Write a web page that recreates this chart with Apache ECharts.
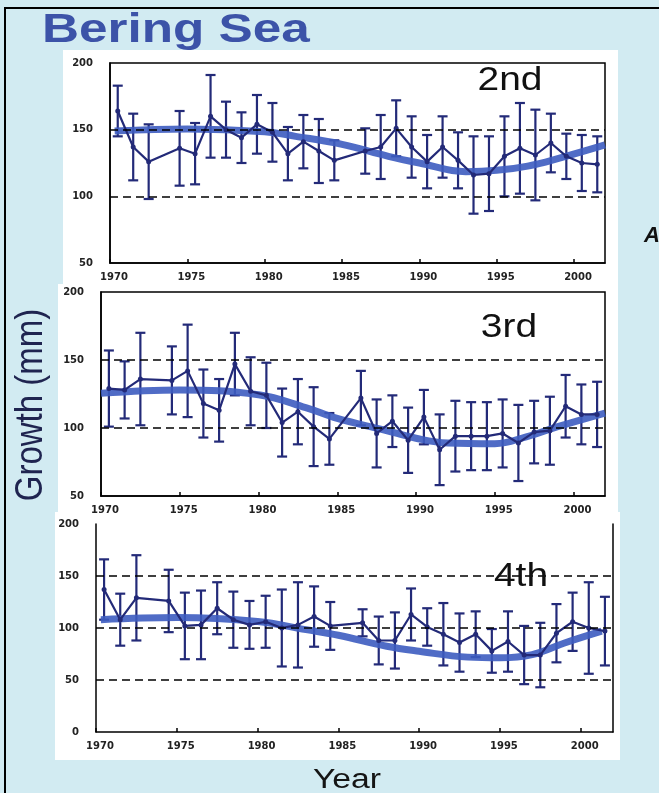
<!DOCTYPE html>
<html>
<head>
<meta charset="utf-8">
<script src="https://cdn.jsdelivr.net/npm/echarts@6/dist/echarts.min.js"></script>
<style>
  html, body { margin: 0; padding: 0; background: #d2ebf2; }
  #container { width: 659px; height: 793px; }
</style>
</head>
<body>
<div id="container"></div>
<script>
// sampling years (no samples in 1973 and 1985)
var years = [1970, 1971, 1972, 1974, 1975, 1976, 1977, 1978, 1979, 1980, 1981, 1982, 1983, 1984,
  1986, 1987, 1988, 1989, 1990, 1991, 1992, 1993, 1994, 1995, 1996, 1997, 1998, 1999, 2000, 2001];

// mean growth (mm) and error (+/-) per year
var mean2nd = [164, 137, 126, 136, 132, 160, 150, 144, 154, 148, 132, 141, 134, 127,
  134, 137, 151, 137, 126, 137, 127, 116, 117, 130, 136, 131, 140, 130, 125, 124];
var err2nd = [19, 25, 28, 28, 23, 31, 21, 19, 22, 22, 20, 20, 24, 15,
  17, 24, 21, 23, 20, 23, 21, 29, 28, 30, 34, 34, 22, 17, 21, 21];

var mean3rd = [129, 128, 136, 135, 142, 118, 113, 147, 127, 124, 104, 112, 101, 92,
  122, 96, 105, 91, 108, 84, 94, 94, 94, 96, 89, 97, 98, 116, 110, 110];
var err3rd = [28, 21, 34, 25, 34, 25, 23, 23, 25, 24, 25, 24, 29, 19,
  20, 25, 19, 24, 20, 26, 26, 25, 25, 25, 28, 23, 25, 23, 22, 24];

var mean4th = [137, 108, 129, 126, 102, 103, 119, 108, 103, 106, 100, 103, 111, 102,
  105, 88, 88, 113, 101, 94, 86, 94, 78, 87, 74, 74, 95, 106, 100, 97];
var err4th = [29, 25, 41, 30, 32, 33, 25, 27, 23, 25, 37, 41, 29, 23,
  13, 23, 27, 25, 18, 30, 28, 22, 21, 29, 28, 31, 28, 28, 44, 33];

// smoothed trend, [year, growth]
var trend2nd = [[1970.3, 149], [1975, 150.5], [1980, 148.5], [1982, 145], [1985, 139], [1988, 130],
  [1990, 125], [1993, 118.5], [1995, 119.5], [1997, 122.7], [1999, 128.5], [2002, 138.6]];
var trend3rd = [[1970, 125.5], [1975, 128], [1980, 124.5], [1983, 115], [1985, 107], [1988, 98.5],
  [1990, 92.5], [1992, 89], [1995, 88.5], [1997, 93.5], [1999, 101], [2002, 111]];
var trend4th = [[1970.3, 108], [1975, 110], [1980, 106.3], [1983, 98.4], [1985, 93], [1988, 82.4],
  [1990, 77.6], [1993, 72], [1995, 71.3], [1997, 74.4], [1999, 85.6], [2001.3, 97]];

// dashed reference lines
var ref2nd = [100, 150];
var ref3rd = [100, 150];
var ref4th = [50, 100, 150];

// axis ranges
var xRange = [1970, 2002];
var yRange2nd = [50, 200];
var yRange3rd = [50, 200];
var yRange4th = [0, 200];

var NAVY = "#232a78";
var TREND = "#3d5cc0";

var dom = document.getElementById("container");
var myChart = echarts.init(dom, null, { renderer: "canvas" });

var panels = [
  { name: "2nd", mean: mean2nd, err: err2nd, trend: trend2nd, ref: ref2nd, yr: yRange2nd,
    grid: { left: 110, top: 63, width: 495, height: 200, show: true } },
  { name: "3rd", mean: mean3rd, err: err3rd, trend: trend3rd, ref: ref3rd, yr: yRange3rd,
    grid: { left: 101, top: 292, width: 504, height: 204, show: true } },
  { name: "4th", mean: mean4th, err: err4th, trend: trend4th, ref: ref4th, yr: yRange4th,
    grid: { left: 96, top: 524, width: 517, height: 208, show: false } },
];

var axisLabelStyle = {
  fontFamily: "DejaVu Sans",
  fontWeight: "bold",
  fontSize: 10,
  color: "#222",
  formatter: function (v) { return String(v); },
};

var grids = [], xAxes = [], yAxes = [], series = [];

panels.forEach(function (p, i) {
  grids.push(Object.assign({
    borderColor: "#000",
    borderWidth: 1.5,
    backgroundColor: "transparent",
    outerBoundsMode: "none",
  }, p.grid));

  xAxes.push({
    type: "value",
    gridIndex: i,
    min: xRange[0],
    max: xRange[1],
    interval: 5,
    splitLine: { show: false },
    axisLine: { show: true, onZero: false, lineStyle: { color: "#000", width: 1.5 } },
    axisTick: { show: true, inside: true, length: 4, lineStyle: { color: "#000", width: 1.5 } },
    axisLabel: Object.assign({ margin: 9, showMaxLabel: false, padding: [0, 0, 0, 8] }, axisLabelStyle),
  });

  yAxes.push({
    type: "value",
    gridIndex: i,
    min: p.yr[0],
    max: p.yr[1],
    interval: 50,
    splitLine: { show: false },
    axisLine: { show: true, onZero: false, lineStyle: { color: "#000", width: 1.5 } },
    axisTick: { show: false },
    axisLabel: Object.assign({ margin: 17 }, axisLabelStyle),
  });

  // error bars
  series.push({
    type: "custom",
    xAxisIndex: i,
    yAxisIndex: i,
    z: 2,
    silent: true,
    encode: { x: 0, y: 1 },
    data: years.map(function (y, k) { return [y + 0.5, p.mean[k], p.err[k]]; }),
    renderItem: function (params, api) {
      var x = api.value(0), m = api.value(1), e = api.value(2);
      var top = api.coord([x, m + e]);
      var bot = api.coord([x, m - e]);
      var cap = 5;
      var st = { stroke: NAVY, lineWidth: 2.2 };
      return {
        type: "group",
        children: [
          { type: "line", shape: { x1: top[0], y1: top[1], x2: bot[0], y2: bot[1] }, style: st },
          { type: "line", shape: { x1: top[0] - cap, y1: top[1], x2: top[0] + cap, y2: top[1] }, style: st },
          { type: "line", shape: { x1: bot[0] - cap, y1: bot[1], x2: bot[0] + cap, y2: bot[1] }, style: st },
        ],
      };
    },
  });

  // smoothed trend + reference lines
  series.push({
    type: "line",
    xAxisIndex: i,
    yAxisIndex: i,
    z: 3,
    smooth: 0.4,
    symbol: "none",
    silent: true,
    data: p.trend,
    lineStyle: { color: TREND, width: 7, opacity: 0.9 },
    markLine: {
      silent: true,
      symbol: "none",
      label: { show: false },
      lineStyle: { color: "#000", type: [8, 5], width: 1.5 },
      data: p.ref.map(function (v) { return { yAxis: v }; }),
    },
  });

  // yearly means
  series.push({
    type: "line",
    xAxisIndex: i,
    yAxisIndex: i,
    z: 4,
    symbol: "circle",
    symbolSize: 5,
    silent: true,
    itemStyle: { color: NAVY },
    lineStyle: { color: NAVY, width: 2.2 },
    data: years.map(function (y, k) { return [y + 0.5, p.mean[k]]; }),
  });
});

// right-hand frame line of the bottom panel (it has no top line)
yAxes.push({
  type: "value",
  gridIndex: 2,
  position: "right",
  min: yRange4th[0],
  max: yRange4th[1],
  splitLine: { show: false },
  axisTick: { show: false },
  axisLabel: { show: false },
  axisLine: { show: true, onZero: false, lineStyle: { color: "#000", width: 1.5 } },
});

var textFont = "Liberation Sans";

option = {
  backgroundColor: "#d2ebf2",
  animation: false,
  grid: grids,
  xAxis: xAxes,
  yAxis: yAxes,
  series: series,
  graphic: [
    // white panel backgrounds
    { type: "rect", z: -10, shape: { x: 63, y: 50, width: 555, height: 236 }, style: { fill: "#fff" } },
    { type: "rect", z: -10, shape: { x: 58, y: 284, width: 560, height: 229 }, style: { fill: "#fff" } },
    { type: "rect", z: -10, shape: { x: 55, y: 512, width: 565, height: 248 }, style: { fill: "#fff" } },
    // outer frame
    { type: "rect", z: 50, shape: { x: 5, y: 8, width: 700, height: 800 },
      style: { fill: "none", stroke: "#000", lineWidth: 2 } },
    { type: "text", z: 60, x: 42, y: 31, scaleX: 1.25,
      style: { text: "Bering Sea", fontFamily: textFont, fontWeight: "bold", fontSize: 41,
        fill: "#3c53a8", align: "left", verticalAlign: "middle" } },
    { type: "text", z: 60, x: 32, y: 405, rotation: Math.PI / 2, scaleY: 1.15,
      style: { text: "Growth (mm)", fontFamily: textFont, fontSize: 33,
        fill: "#1f2450", align: "center", verticalAlign: "middle" } },
    { type: "text", z: 60, x: 347, y: 781, scaleX: 1.25,
      style: { text: "Year", fontFamily: textFont, fontSize: 27,
        fill: "#151515", align: "center", verticalAlign: "middle" } },
    { type: "text", z: 60, x: 510, y: 81, scaleX: 1.18,
      style: { text: panels[0].name, fontFamily: textFont, fontSize: 33,
        fill: "#111", align: "center", verticalAlign: "middle" } },
    { type: "text", z: 60, x: 509, y: 328, scaleX: 1.18,
      style: { text: panels[1].name, fontFamily: textFont, fontSize: 33,
        fill: "#111", align: "center", verticalAlign: "middle" } },
    { type: "text", z: 60, x: 521, y: 577, scaleX: 1.18,
      style: { text: panels[2].name, fontFamily: textFont, fontSize: 33,
        fill: "#111", align: "center", verticalAlign: "middle" } },
    { type: "text", z: 60, x: 644, y: 236,
      style: { text: "A", fontFamily: textFont, fontWeight: "bold", fontStyle: "italic", fontSize: 22,
        fill: "#111", align: "left", verticalAlign: "middle" } },
  ],
};

if (option && typeof option === "object") {
  myChart.setOption(option);
}

window.addEventListener("resize", myChart.resize);
</script>
</body>
</html>
